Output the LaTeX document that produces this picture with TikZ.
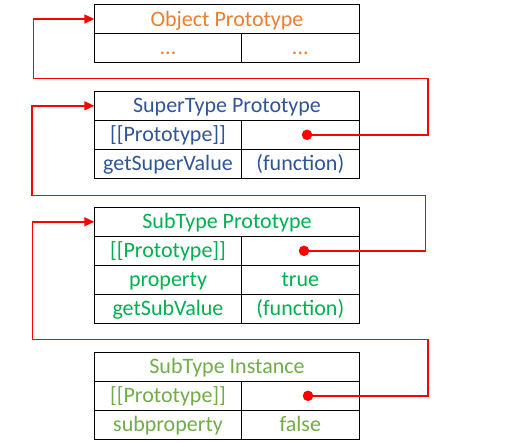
\documentclass[tikz,border=0pt]{standalone}
\usepackage{fontspec}
\setmainfont{Carlito}
\usepackage{xcolor}
\usepackage{tikz}
\usetikzlibrary{arrows.meta}

\definecolor{objorange}{HTML}{ED7D31}
\definecolor{superblue}{HTML}{2F5597}
\definecolor{subgreen}{HTML}{00B050}
\definecolor{instgreen}{HTML}{70AD47}

\begin{document}
\begin{tikzpicture}[x=1pt, y=-1pt,
        cell/.style={draw=black, line width=0.8pt, inner sep=0pt, minimum height=29pt,
            text height=14pt, text depth=0pt, font=\fontsize{22}{26}\selectfont},
        title/.style={cell, minimum width=264.6pt},
        keycell/.style={cell, minimum width=146.6pt},
        valcell/.style={cell, minimum width=118pt},
        link/.style={draw=red, line width=1.4pt},
        ptr/.style={fill=red, circle, inner sep=0pt, minimum size=10.5pt}]
            \useasboundingbox (0, 0) rectangle (508, 442);

            \node[title, text=objorange] (objTitle) at (227, 19) {Object Prototype};
            \node[keycell, text=objorange] (objKey) at (168, 47.7) {...};
            \node[valcell, text=objorange] (objVal) at (300.3, 47.7) {...};

            \node[title, text=superblue] (superTitle) at (227, 105.8) {SuperType Prototype};
            \node[keycell, text=superblue] (superProtoKey) at (168, 134.8) {[[Prototype]]};
            \node[valcell, text=superblue] (superProtoVal) at (300.3, 134.8) {};
            \node[keycell, text=superblue] (superFnKey) at (168, 163.8) {getSuperValue};
            \node[valcell, text=superblue] (superFnVal) at (300.3, 163.8) {(function)};

            \node[title, text=subgreen] (subTitle) at (227, 221.8) {SubType Prototype};
            \node[keycell, text=subgreen] (subProtoKey) at (168, 250.8) {[[Prototype]]};
            \node[valcell, text=subgreen] (subProtoVal) at (300.3, 250.8) {};
            \node[keycell, text=subgreen] (subPropKey) at (168, 279.8) {property};
            \node[valcell, text=subgreen] (subPropVal) at (300.3, 279.8) {true};
            \node[keycell, text=subgreen] (subFnKey) at (168, 308.8) {getSubValue};
            \node[valcell, text=subgreen] (subFnVal) at (300.3, 308.8) {(function)};

            \node[title, text=instgreen] (instTitle) at (227, 366.8) {SubType Instance};
            \node[keycell, text=instgreen] (instProtoKey) at (168, 395.8) {[[Prototype]]};
            \node[valcell, text=instgreen] (instProtoVal) at (300.3, 395.8) {};
            \node[keycell, text=instgreen] (instPropKey) at (168, 424.8) {subproperty};
            \node[valcell, text=instgreen] (instPropVal) at (300.3, 424.8) {false};

            \node[ptr] (superDot) at (307, 134.8) {};
            \node[ptr] (subDot) at (304, 250.8) {};
            \node[ptr] (instDot) at (308, 395.8) {};

            \coordinate (superRight) at (428, 78.7);
            \coordinate (superLeft) at (33.3, 78.7);
            \coordinate (subRight) at (425.3, 195.7);
            \coordinate (subLeft) at (32, 195.7);
            \coordinate (instRight) at (428, 339.3);
            \coordinate (instLeft) at (32.7, 339.3);

            \draw[link, -{Triangle[length=10pt, width=9pt]}] (superDot.center) -| (superRight) -- (superLeft) |- (objTitle.west);
            \draw[link, -{Triangle[length=10pt, width=9pt]}] (subDot.center) -| (subRight) -- (subLeft) |- (superTitle.west);
            \draw[link, -{Triangle[length=10pt, width=9pt]}] (instDot.center) -| (instRight) -- (instLeft) |- (subTitle.west);

        \end{tikzpicture}
\end{document}
